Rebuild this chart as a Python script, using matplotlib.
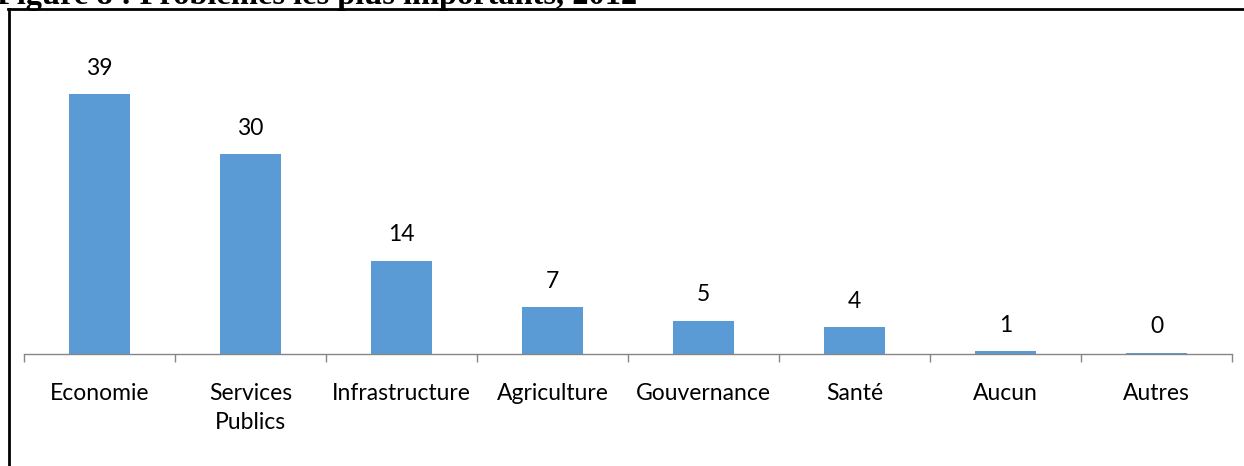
import matplotlib.pyplot as plt
from matplotlib.lines import Line2D

# Problemes les plus importants, 2012
categories = ["Economie", "Services\nPublics", "Infrastructure", "Agriculture",
              "Gouvernance", "Santé", "Aucun", "Autres"]
values = [39, 30, 14, 7, 5, 4, 1, 0]
# tiny height so the "0" bar still shows as a thin line
bar_heights = [39, 30, 14, 7, 5, 4, 0.4, 0.2]

W, H = 1244, 466
fig = plt.figure(figsize=(W / 100, H / 100), dpi=100)
fig.patch.set_facecolor("white")

ax = fig.add_axes([24 / W, 1 - 354 / H, 1208 / W, 334 / H])
x = range(len(categories))
ax.bar(x, bar_heights, width=0.4, color="#5B9BD5", zorder=2)

for i, v in enumerate(values):
    ax.text(i, bar_heights[i] + 2.3, str(v), ha="center", va="bottom",
            fontsize=16.5, family="Lato", color="#000000")

ax.set_xlim(-0.5, 7.5)
ax.set_ylim(0, 50.1)
ax.set_xticks([i - 0.5 for i in range(len(categories) + 1)])
ax.set_xticklabels([])
ax.set_xticks(list(x), minor=True)
ax.set_xticklabels(categories, minor=True, fontsize=16.5, family="Lato",
                   linespacing=1.45, va="top")
ax.tick_params(axis="x", which="major", length=6, color="#868686", width=1)
ax.tick_params(axis="x", which="minor", length=0, pad=21)
ax.set_yticks([])
for s in ["top", "right", "left"]:
    ax.spines[s].set_visible(False)
ax.spines["bottom"].set_color("#868686")
ax.spines["bottom"].set_linewidth(1)

# outer frame (left and top edge visible in the crop)
fig.add_artist(Line2D([9 / W, 9 / W], [0, 1 - 9 / H], transform=fig.transFigure,
                      color="black", linewidth=2))
fig.add_artist(Line2D([8 / W, 1], [1 - 9 / H, 1 - 9 / H], transform=fig.transFigure,
                      color="black", linewidth=2))

# title, cut by the top edge
fig.text(-3 / W, 1 - 4 / H, "Figure 8 : Problèmes les plus importants, 2012",
         family="Liberation Serif", fontweight="bold", fontsize=23.3,
         ha="left", va="baseline")

fig.savefig("out.png", dpi=100)
